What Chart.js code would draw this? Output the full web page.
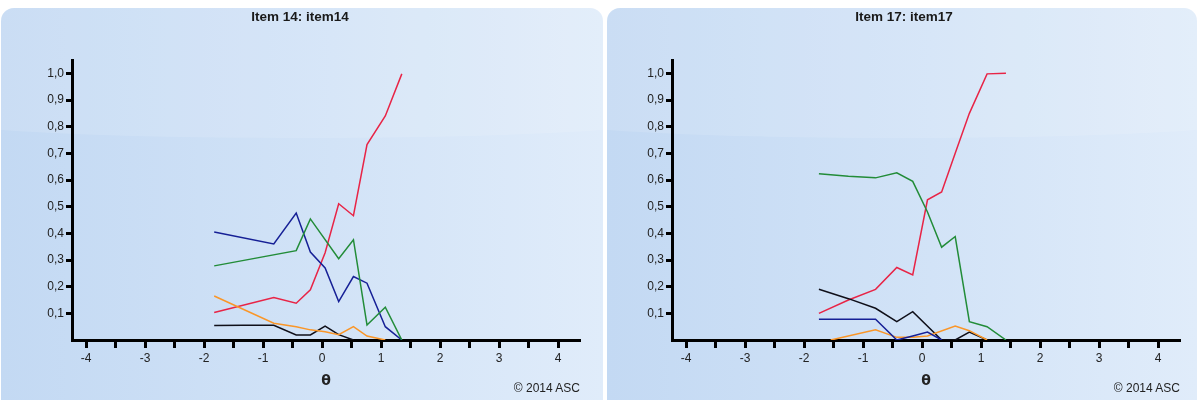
<!DOCTYPE html>
<html>
<head>
<meta charset="utf-8">
<script src="https://cdn.jsdelivr.net/npm/chart.js@4"></script>
<style>
  body { margin: 0; background: #fff; width: 1198px; height: 400px; overflow: hidden; position: relative; font-family: "Liberation Sans", Arial, sans-serif; }
  .panel { position: absolute; top: 8px; height: 410px; border-radius: 13px;
    background: linear-gradient(90deg, #c3d9f3 0%, #d2e3f7 55%, #e0ecfa 100%); overflow: hidden; }
  .panel::before { content: ''; position: absolute; left: -10%; top: -40px; width: 120%; height: 170px;
    border-radius: 0 0 50% 50% / 0 0 18px 18px; background: rgba(255,255,255,0.12); }
  .wrap { position: absolute; top: 0; height: 400px; }
  .title { position: absolute; top: 9px; width: 100%; text-align: center; font-weight: bold; font-size: 13.5px; color: #1a1a1a; }
  .copy { position: absolute; top: 381px; font-size: 12px; color: #222; text-align: right; }
</style>
</head>
<body>
<div class="panel" style="left:1px;width:602px"></div>
<div class="panel" style="left:607px;width:590px"></div>

<div class="wrap" style="left:0;width:600px">
  <div class="title">Item 14: item14</div>
  <canvas id="chart14" width="600" height="400"></canvas>
  <div class="copy" style="right:20px">© 2014 ASC</div>
</div>
<div class="wrap" style="left:600px;width:598px">
  <div class="title" style="left:5px">Item 17: item17</div>
  <canvas id="chart17" width="598" height="400"></canvas>
  <div class="copy" style="right:18px">© 2014 ASC</div>
</div>

<script>
// Item 14 (theta points, null = no vertex there)
const theta14 = [-1.83, -1.33, -0.82, -0.44, -0.2, 0.05, 0.28, 0.53, 0.76, 1.07, 1.35];
const red14    = [0.103, null, 0.159, 0.138, 0.188, 0.327, 0.511, 0.466, 0.733, 0.84, 0.998];
const green14  = [0.278, null, null, 0.335, 0.454, null, 0.305, 0.376, 0.056, 0.123, 0];
const blue14   = [0.405, null, 0.36, 0.476, 0.33, 0.27, 0.144, 0.238, 0.213, 0.05, 0];
const orange14 = [0.165, null, 0.063, 0.05, 0.038, 0.031, 0.02, 0.05, 0.015, 0, null];
const black14  = [0.054, 0.055, 0.055, 0.019, 0.019, 0.052, 0.02, 0, null, null, null];

// Item 17
const theta17 = [-1.75, -1.55, -1.25, -0.79, -0.43, -0.16, 0.09, 0.33, 0.56, 0.8, 1.1, 1.42];
const red17    = [0.10, null, 0.15, 0.19, 0.272, 0.244, 0.526, 0.555, 0.70, 0.85, 0.998, 1.0];
const green17  = [0.623, null, 0.614, 0.608, 0.627, 0.595, 0.48, 0.348, 0.388, 0.069, 0.05, 0];
const blue17   = [0.078, null, null, 0.078, 0, 0.015, 0.03, 0, null, null, null, null];
const orange17 = [null, 0, null, 0.038, 0.01, 0.01, 0.015, null, 0.052, 0.035, 0, null];
const black17  = [0.19, null, 0.155, 0.119, 0.069, 0.106, null, 0, 0, 0.03, 0, null];

const seriesColors = {
  red: 'rgb(232,36,70)',
  green: 'rgb(34,140,56)',
  blue: 'rgb(22,32,150)',
  orange: 'rgb(250,150,40)',
  black: 'rgb(15,15,25)'
};

function points(theta, vals) {
  return theta.map((t, i) => ({ x: t, y: vals[i] }));
}

function makeChart(id, theta, series, rightPad) {
  const datasets = Object.keys(series).map(name => ({
    label: name,
    data: points(theta, series[name]),
    borderColor: seriesColors[name],
    borderWidth: 1.5,
    pointRadius: 0,
    spanGaps: true,
    tension: 0
  }));

  new Chart(document.getElementById(id), {
    type: 'line',
    data: { datasets },
    options: {
      responsive: false,
      animation: false,
      layout: { padding: { left: 0, right: rightPad, top: 60, bottom: 10 } },
      plugins: { legend: { display: false }, tooltip: { enabled: false } },
      scales: {
        x: {
          type: 'linear',
          min: -4.24,
          max: 4.37,
          afterFit: s => { s.height = 50; },
          border: { display: true, color: '#000', width: 3 },
          grid: { drawOnChartArea: false, drawTicks: true, tickLength: 8, tickWidth: 3, tickColor: '#000' },
          ticks: {
            stepSize: 0.5,
            includeBounds: false,
            autoSkip: false,
            maxRotation: 0,
            padding: 3,
            color: '#222',
            font: { family: 'Liberation Sans', size: 12 },
            callback: v => Number.isInteger(v) ? String(v) : ''
          },
          title: {
            display: true,
            text: 'θ',
            color: '#222',
            padding: { top: 0, bottom: 0 },
            font: { family: 'DejaVu Sans', size: 14, weight: 'bold' }
          }
        },
        y: {
          min: 0,
          max: 1.05,
          afterFit: s => { s.width = 72; },
          border: { display: true, color: '#000', width: 3 },
          grid: { drawOnChartArea: false, drawTicks: true, tickLength: 6, tickWidth: 3, tickColor: '#000' },
          ticks: {
            stepSize: 0.1,
            includeBounds: false,
            padding: 2,
            color: '#222',
            font: { family: 'Liberation Sans', size: 12 },
            callback: v => v < 0.05 ? null : v.toFixed(1).replace('.', ',')
          }
        }
      }
    }
  });
}

makeChart('chart14', theta14,
  { green: green14, blue: blue14, orange: orange14, black: black14, red: red14 }, 20);
makeChart('chart17', theta17,
  { green: green17, blue: blue17, orange: orange17, black: black17, red: red17 }, 18);
</script>
</body>
</html>
